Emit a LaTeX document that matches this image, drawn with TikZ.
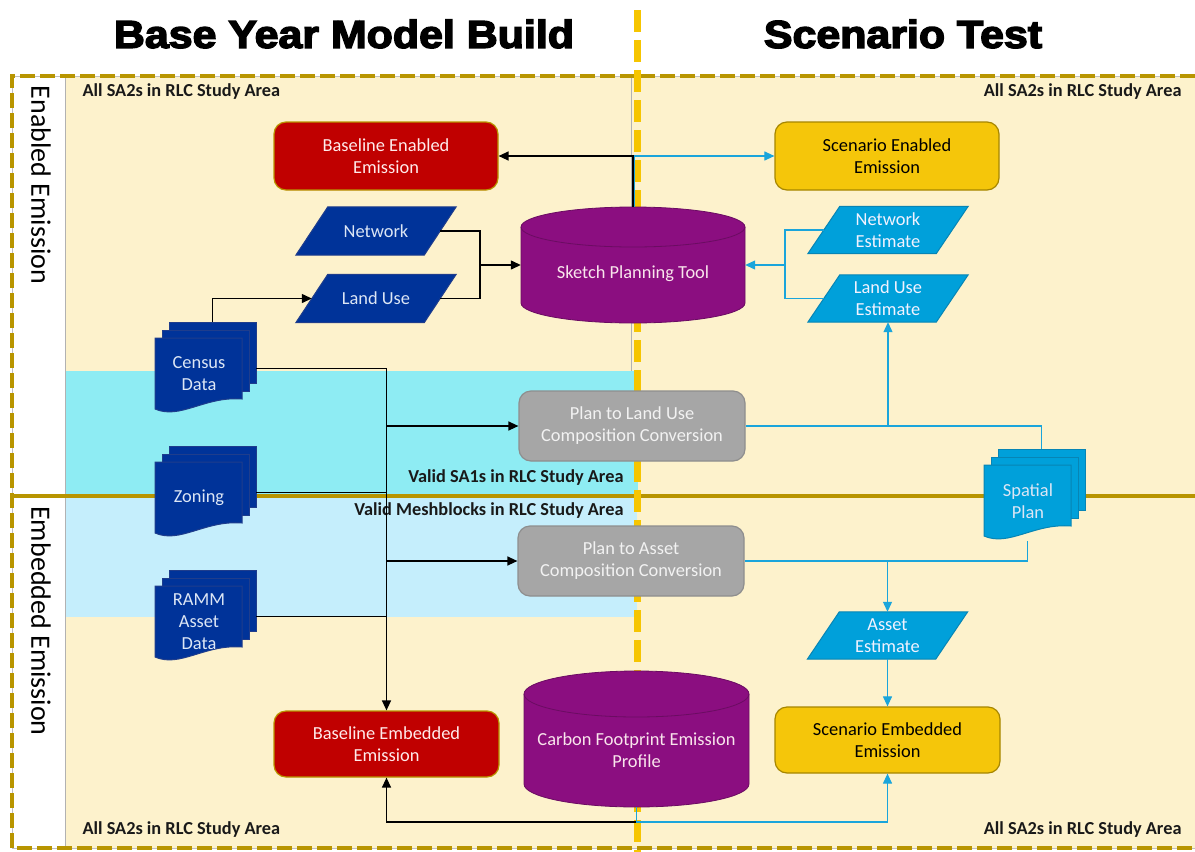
\documentclass[tikz,border=0pt]{standalone}
\usepackage{fontspec}
\setmainfont{Carlito}
\newfontfamily\headfont[FakeBold=3.5]{Liberation Sans}
\usetikzlibrary{arrows.meta,calc}

\definecolor{bgyel}{HTML}{FDF2CC}
\definecolor{bandcyan}{HTML}{8EECF3}
\definecolor{bandblue}{HTML}{C5EEFC}
\definecolor{gold}{HTML}{B89500}
\definecolor{dashyel}{HTML}{F6C500}
\definecolor{redbox}{HTML}{C00000}
\definecolor{yelbox}{HTML}{F5C60A}
\definecolor{navy}{HTML}{003399}
\definecolor{navyline}{HTML}{1F3D8C}
\definecolor{navytext}{HTML}{DCE6F5}
\definecolor{sky}{HTML}{00A0DA}
\definecolor{skyline}{HTML}{0785B5}
\definecolor{skyarrow}{HTML}{1AA5DB}
\definecolor{purp}{HTML}{8B0E80}
\definecolor{purpline}{HTML}{6B0C62}
\definecolor{greybox}{HTML}{A6A6A6}
\definecolor{greyline}{HTML}{8E8E8E}

\pgfdeclarelayer{back}
\pgfdeclarelayer{shapes}
\pgfsetlayers{back,shapes,main}

\tikzset{
  boxfont/.style={font=\fontsize{18.4}{22}\selectfont},
  areafont/.style={font=\bfseries\fontsize{18.3}{20}\selectfont, text=black!90},
  headstyle/.style={font=\headfont\bfseries\fontsize{39}{44}\selectfont, xscale=1.1},
  sidestyle/.style={rotate=-90, font=\fontsize{28}{30}\selectfont},
  box/.style={boxfont, rounded corners=12pt, minimum width=224pt, minimum height=68pt,
    align=center, line width=1.2pt, inner sep=0pt},
  redstyle/.style={box, fill=redbox, draw=gold, text=white!92!red},
  yelstyle/.style={box, fill=yelbox, draw=gold!90!black, text=black},
  greystyle/.style={box, fill=greybox, draw=greyline, text=white!95!black,
    minimum width=226pt, minimum height=70pt},
  slant/.style={boxfont, minimum width=128pt, minimum height=48pt, inner sep=0pt,
    align=center, text=navytext},
  drumtext/.style={boxfont, align=center, text=white!90!purple},
  doctext/.style={boxfont, align=center, text=navytext},
  blk/.style={draw=black, line width=1.3pt},
  blkarr/.style={blk, -{Triangle[length=10pt,width=9pt]}},
  blu/.style={draw=skyarrow, line width=1.1pt},
  bluarr/.style={blu, -{Triangle[length=10pt,width=9pt]}},
}

% parallelogram drawn around an existing node: name, fill, line
\newcommand{\slantbox}[3]{%
  \begin{pgfonlayer}{shapes}
  \filldraw[fill=#2, draw=#3, line width=1pt]
    ($(#1.south west)+(-16,0)$) -- ($(#1.north west)+(16,0)$) --
    ($(#1.north east)+(16,0)$) -- ($(#1.south east)+(-16,0)$) -- cycle;
  \end{pgfonlayer}}

% stack of three documents: name, x, y (front page top left), fill, line, text
\newcommand{\docstack}[6]{%
  \begin{pgfonlayer}{shapes}
  \filldraw[fill=#4, draw=#5, line width=1pt] ({#2+14},{#3-16}) rectangle ({#2+101},{#3+45});
  \filldraw[fill=#4, draw=#5, line width=1pt] ({#2+7},{#3-8}) rectangle ({#2+94},{#3+53});
  \filldraw[fill=#4, draw=#5, line width=1pt] (#2,#3) -- ({#2+87},#3) -- ({#2+87},{#3+61})
     .. controls ({#2+50},{#3+58}) and ({#2+25},{#3+82}) .. (#2,{#3+71}) -- cycle;
  \end{pgfonlayer}
  \node[inner sep=0pt, minimum width=101pt, minimum height=93pt] (#1) at ({#2+50.5},{#3+30.5}) {};
  \node[doctext] (#1-txt) at ({#2+44},{#3+36}) {#6};
  \coordinate (#1-top) at ({#2+57.5},{#3-16});
  \coordinate (#1-bot) at ({#2+43.5},{#3+76});
}

% cylinder: name, cx, top y, bottom y, x radius, y radius
\newcommand{\drum}[6]{%
  \begin{pgfonlayer}{shapes}
  \filldraw[fill=purp, draw=purpline, line width=0.8pt]
    ({#2-#5},{#3+#6}) -- ({#2-#5},{#4-#6})
    arc[start angle=180, end angle=0, x radius=#5, y radius=#6]
    -- ({#2+#5},{#3+#6})
    arc[start angle=0, end angle=-180, x radius=#5, y radius=#6] -- cycle;
  \draw[purpline, line width=0.8pt] ({#2-#5},{#3+#6})
    arc[start angle=180, end angle=0, x radius=#5, y radius=#6];
  \end{pgfonlayer}
  \node[inner sep=0pt, minimum width={2*#5}, minimum height={#4-#3}] (#1) at (#2,{(#3+#4)/2}) {};
}

\begin{document}
\begin{tikzpicture}[x=1pt, y=-1pt]
\useasboundingbox (0,0) rectangle (1195,852);

\begin{pgfonlayer}{back}
  \fill[white] (0,0) rectangle (1195,852);
  \fill[bgyel] (65,76) rectangle (1195,848);
  \fill[bandcyan] (65,371) rectangle (638,494);
  \fill[bandblue] (65,494) rectangle (637,617);
  \draw[black!30, line width=0.6pt] (65,76) -- (65,848);
  \draw[black!30, line width=0.6pt] (631,76) -- (631,371);
  \draw[black!25, line width=0.6pt] (1195,76) -- (12,76) -- (12,848) -- (1195,848);
  \draw[gold, line width=4.5pt, dash pattern=on 15pt off 5pt] (1195,76) -- (12,76) -- (12,848) -- (1195,848);
  \draw[gold, line width=4pt] (12,496) -- (1195,496);
  \draw[dashyel, line width=7pt, dash pattern=on 22pt off 8pt] (637,10) -- (637,852);
\end{pgfonlayer}

% headings
\node[headstyle] (title-base) at (344,34) {Base Year Model Build};
\node[headstyle] (title-scen) at (903,34) {Scenario Test};

% side labels
\node[sidestyle] (lab-enabled) at (41,185) {Enabled Emission};
\node[sidestyle] (lab-embedded) at (41,621) {Embedded Emission};

% area labels
\node[areafont, anchor=west] (area-tl) at (79,92) {All SA2s in RLC Study Area};
\node[areafont, anchor=east] (area-tr) at (1185,92) {All SA2s in RLC Study Area};
\node[areafont, anchor=west] (area-bl) at (79,830) {All SA2s in RLC Study Area};
\node[areafont, anchor=east] (area-br) at (1185,830) {All SA2s in RLC Study Area};
\node[areafont, anchor=east] (area-sa1) at (627,478) {Valid SA1s in RLC Study Area};
\node[areafont, anchor=east] (area-mb) at (627,511) {Valid Meshblocks in RLC Study Area};

% emission boxes
\node[redstyle] (benab) at (386,156) {Baseline Enabled\\Emission};
\node[yelstyle] (senab) at (887,156) {Scenario Enabled\\Emission};
\node[redstyle, minimum width=225pt, minimum height=66pt] (bemb) at (386.5,744) {Baseline Embedded\\Emission};
\node[yelstyle, minimum width=225pt, minimum height=66pt] (semb) at (887.5,740) {Scenario Embedded\\Emission};

% conversion steps
\node[greystyle] (pluc) at (632,426) {Plan to Land Use\\Composition Conversion};
\node[greystyle] (pac) at (631,561) {Plan to Asset\\Composition Conversion};

% data inputs
\node[slant] (net) at (376,231) {Network};
\slantbox{net}{navy}{navyline}
\node[slant] (lu) at (376,298.5) {Land Use};
\slantbox{lu}{navy}{navyline}
\node[slant, minimum height=47pt, text=white!95!blue] (nete) at (888,230) {Network\\Estimate};
\slantbox{nete}{sky}{skyline}
\node[slant, minimum height=47pt, text=white!95!blue] (lue) at (888,298.5) {Land Use\\Estimate};
\slantbox{lue}{sky}{skyline}
\node[slant, minimum height=47pt, text=white!95!blue] (ae) at (887.5,635.5) {Asset\\Estimate};
\slantbox{ae}{sky}{skyline}

% document stacks
\docstack{census}{155}{338}{navy}{navyline}{Census\\Data}
\docstack{zoning}{155}{462}{navy}{navyline}{Zoning}
\docstack{ramm}{155}{586}{navy}{navyline}{RAMM\\Asset\\Data}
\docstack{spatial}{984}{465}{sky}{skyline}{Spatial\\Plan}

% tools
\drum{sketch}{633}{207}{323}{112}{20}
\node[drumtext] (sketch-txt) at (633,274) {Sketch Planning Tool};
\drum{carbon}{636.5}{671}{807}{112.5}{23}
\node[drumtext] (carbon-txt) at (636.5,750) {Carbon Footprint Emission\\Profile};

% base year flows
\draw[blkarr] (sketch.north) |- (benab.east);
\coordinate (j1) at (480,265);
\draw[blk] (net.east) -| (j1);
\draw[blk] (lu.east) -| (j1);
\draw[blkarr] (j1) -- (sketch.west);
\draw[blkarr] (census-top) |- (lu.west);
\draw[blkarr] (census.east) -| (bemb.north);
\draw[blk] (zoning.east) -- (zoning.east -| bemb.north);
\draw[blk] (ramm.east) -- (ramm.east -| bemb.north);
\draw[blkarr] (bemb.north |- pluc.west) -- (pluc.west);
\draw[blkarr] (bemb.north |- pac.west) -- (pac.west);
\coordinate (cfoot) at (636.5,822);
\draw[blkarr] (carbon.south) -- (cfoot) -| (bemb.south);

% scenario flows
\draw[bluarr] ([xshift=1.2pt]sketch.north) |- (senab.west);
\coordinate (j2) at (785,265);
\draw[blu] (nete.west) -| (j2);
\draw[blu] (lue.west) -| (j2);
\draw[bluarr] (j2) -- (sketch.east);
\draw[blu] (pluc.east) -- (pluc.east -| lue.south);
\draw[bluarr] (spatial-top) |- (lue.south |- pluc.east) -- (lue.south);
\draw[blu] (pac.east) -- (pac.east -| ae.north);
\draw[bluarr] (spatial-bot) |- (ae.north |- pac.east) -- (ae.north);
\draw[bluarr] (ae.south) -- (semb.north);
\draw[bluarr] (carbon.south) -- (cfoot) -| (semb.south);
\end{tikzpicture}
\end{document}
